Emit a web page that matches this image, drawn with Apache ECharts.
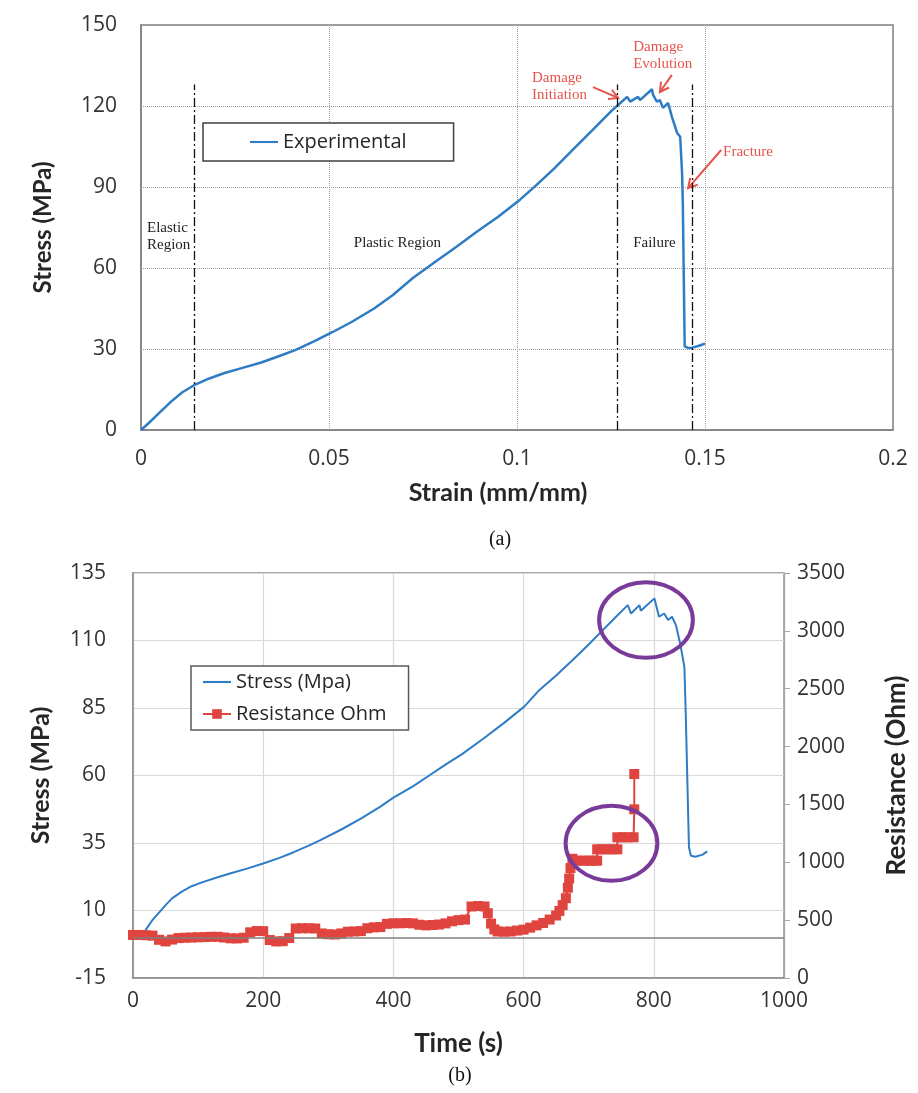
<!DOCTYPE html>
<html><head><meta charset="utf-8">
<script src="https://cdn.jsdelivr.net/npm/echarts@6/dist/echarts.min.js"></script>
<style>html,body{margin:0;padding:0;background:#fff}#c{width:918px;height:1093px}</style>
</head><body><div id="c"></div>
<script>
// ---- (a) stress vs strain ----
const strainA = [0,0.002,0.005,0.008,0.011,0.014,0.018,0.022,0.027,0.032,0.037,0.041,0.046,0.051,0.056,0.062,0.067,0.0723,0.078,0.084,0.0893,0.095,0.1008,0.105,0.110,0.115,0.120,0.125,0.1274,0.1293,0.1301,0.1322,0.1327,0.1359,0.1362,0.1372,0.1380,0.1388,0.1402,0.1412,0.1426,0.1434,0.1439,0.1441,0.1446,0.1455,0.1465,0.1480,0.1490,0.1500];
const stressA = [0,2.5,6.5,10.5,14,16.5,19,21,23,25,27.5,29.6,32.8,36.3,40,45,50,56.3,62,68,73.4,79,85.3,90.5,97,104,111,118,121,123.4,121.6,123.4,122.2,126.2,124.1,121.6,122.2,119.3,121.1,116,110,108.6,95.2,84.1,31,30.4,30.5,31,31.5,32];
const xTicksA = [0, 0.05, 0.1, 0.15, 0.2];
const yTicksA = [0, 30, 60, 90, 120, 150];
const regionLinesA = [0.0141, 0.1267, 0.1467];
const regionLineTopA = 128;
const notesA = [
  {text:'Elastic\nRegion', at:[0.0016, 71.5], red:false},
  {text:'Plastic Region', at:[0.0566, 69.3], red:false},
  {text:'Failure', at:[0.1309, 69.3], red:false},
  {text:'Damage\nInitiation', at:[0.104, 127.2], red:true},
  {text:'Damage\nEvolution', at:[0.1309, 138.7], red:true},
  {text:'Fracture', at:[0.1548, 103], red:true}
];
const arrowsA = [
  {from:[0.1202, 127], to:[0.1269, 123]},
  {from:[0.1412, 131.5], to:[0.1380, 125.2]},
  {from:[0.1543, 103.7], to:[0.1455, 89.6]}
];
// ---- (b) stress & resistance vs time ----
const timeB = [13,20,30,41,50,60,75,90,107,130,149,175,200,225,246,270,287,320,350,380,400,430,455,480,506,540,570,601,624,650,675,700,719,742,760,765,778,780,801,808,816,822,828,834,841,847,849,852,854,857,864,875,882];
const stressB = [0,3,6.5,9.5,12,14.5,17,19,20.5,22.3,23.7,25.5,27.4,29.5,31.5,34,36,40,44,48.5,51.8,56,60,64,68,74,79.5,85.5,91.6,97,102.7,108.5,113.2,118.8,123.1,120,123.1,121,125.6,118.8,120,117.6,118.8,115.7,108.3,100.2,83.5,82.9,33.4,30.3,29.9,30.7,31.9];
const timeR = [0,10,20,30,40,50,60,70,80,90,100,110,120,130,140,150,160,170,180,190,200,210,220,230,240,250,260,270,280,290,300,310,320,330,340,350,360,370,380,390,400,410,420,430,440,450,460,470,480,490,500,510,520,530,540,545,550,555,560,570,580,590,600,610,620,630,640,650,655,660,665,668,670,672,675,684,692,700,707,713,713,720,728,736,744,744,752,760,769,770,770];
const resistR = [372,372,370,366,330,316,332,345,348,350,352,354,356,356,350,343,342,348,395,406,405,328,316,318,345,428,430,430,428,385,378,376,385,400,402,405,430,438,440,468,473,473,475,472,460,455,458,462,472,490,500,505,618,622,618,560,470,420,402,400,402,410,418,435,455,475,505,540,580,630,690,780,860,950,1030,1014,1014,1014,1014,1014,1112,1112,1112,1112,1112,1216,1216,1216,1216,1458,1763];
const circlesB = [
  {center:[788, 117.6], r:[72, 14]},
  {center:[735, 34.9], r:[70.5, 13.9]}
];

const FONT = 'Lato';
const TICKFONT = 'Open Sans';
const BLUE = '#2e7cc4';
const RED = '#e0443e';
const NOTE_RED = '#e4544d';
const PURPLE = '#7a3a99';
const TXT = '#333333';
const LINE_ICON = 'path://M0,0H40V3H0Z';

const chart = echarts.init(document.getElementById('c'));
const tick = {fontFamily:TICKFONT, fontSize:21, color:TXT};
const option = {
  animation: false,
  backgroundColor: '#ffffff',
  grid: [
    {left:141, top:25, width:752, height:405, show:true, borderColor:'#808080', borderWidth:1.5},
    {left:133, top:573, width:652, height:405, show:true, borderColor:'#8c8c8c', borderWidth:1.5}
  ],
  legend: [
    {data:[{name:'Experimental', icon:LINE_ICON}], left:203, top:123, orient:'horizontal', padding:[9,47,9,47],
     borderColor:'#404040', borderWidth:1.5, backgroundColor:'#fff', itemWidth:28, itemHeight:12,
     textStyle:{fontFamily:TICKFONT, fontSize:20, color:'#262626'}},
    {data:[{name:'Stress (Mpa)', icon:LINE_ICON}, 'Resistance Ohm'], left:191, top:666, orient:'vertical', padding:[6,22,6,11], itemGap:12,
     borderColor:'#595959', borderWidth:1.5, backgroundColor:'#fff', itemWidth:28, itemHeight:12,
     textStyle:{fontFamily:TICKFONT, fontSize:20, color:'#262626'}}
  ],
  xAxis: [
    {gridIndex:0, type:'value', min:xTicksA[0], max:xTicksA[xTicksA.length-1], interval:0.05,
     name:'Strain (mm/mm)', nameLocation:'middle', nameGap:50,
     nameTextStyle:{fontFamily:FONT, fontWeight:'bold', fontSize:25, color:'#262626', padding:[0,38,0,0]},
     axisLine:{show:true, lineStyle:{color:'#808080', width:1.5}}, axisTick:{show:false},
     axisLabel:Object.assign({margin:19, formatter:v=>String(+v.toFixed(2))}, tick),
     splitLine:{show:true, lineStyle:{type:'dotted', color:'#9a9a9a', width:1}}},
    {gridIndex:1, type:'value', min:0, max:1000, interval:200,
     name:'Time (s)', nameLocation:'middle', nameGap:53,
     nameTextStyle:{fontFamily:FONT, fontWeight:'bold', fontSize:26, color:'#262626'},
     axisLine:{show:true, onZero:false, lineStyle:{color:'#8c8c8c', width:1.5}}, axisTick:{show:false},
     axisLabel:Object.assign({margin:13, formatter:v=>String(v)}, tick),
     splitLine:{show:true, lineStyle:{color:'#d9d9d9', width:1.2}}}
  ],
  yAxis: [
    {gridIndex:0, type:'value', min:yTicksA[0], max:yTicksA[yTicksA.length-1], interval:30,
     name:'Stress (MPa)', nameLocation:'middle', nameGap:86,
     nameTextStyle:{fontFamily:FONT, fontWeight:'bold', fontSize:24, color:'#262626'},
     axisLine:{show:true, lineStyle:{color:'#808080', width:1.5}}, axisTick:{show:false},
     axisLabel:Object.assign({margin:24, formatter:v=>String(v)}, tick),
     splitLine:{show:true, lineStyle:{type:'dotted', color:'#9a9a9a', width:1}}},
    {gridIndex:1, type:'value', min:-15, max:135, interval:25,
     name:'Stress (MPa)', nameLocation:'middle', nameGap:80,
     nameTextStyle:{fontFamily:FONT, fontWeight:'bold', fontSize:25, color:'#262626'},
     axisLine:{show:true, lineStyle:{color:'#8c8c8c', width:1.5}}, axisTick:{show:false},
     axisLabel:Object.assign({margin:27, formatter:v=>String(v)}, tick),
     splitLine:{show:true, lineStyle:{color:'#d9d9d9', width:1.2}}},
    {gridIndex:1, type:'value', min:0, max:3500, interval:500, position:'right',
     name:'Resistance (Ohm)', nameLocation:'middle', nameGap:100,
     nameTextStyle:{fontFamily:FONT, fontWeight:'bold', fontSize:26, color:'#262626'},
     axisLine:{show:true, lineStyle:{color:'#a6a6a6', width:1.2}},
     axisTick:{show:true, inside:false, length:6, lineStyle:{color:'#a6a6a6'}},
     axisLabel:Object.assign({margin:13, formatter:v=>String(v)}, tick),
     splitLine:{show:false}}
  ],
  series: [
    {name:'Experimental', type:'line', xAxisIndex:0, yAxisIndex:0,
     data: strainA.map((s,i)=>[s, stressA[i]]), symbol:'none',
     lineStyle:{color:BLUE, width:2.5}, itemStyle:{color:BLUE},
     markLine:{silent:true, symbol:['none','none'], label:{show:false},
       lineStyle:{type:[9,3,2,3], color:'#111', width:1.3},
       data: regionLinesA.map(x=>[{coord:[x,0]},{coord:[x,regionLineTopA]}])}},
    {name:'Stress (Mpa)', type:'line', xAxisIndex:1, yAxisIndex:1,
     data: timeB.map((t,i)=>[t, stressB[i]]), symbol:'none',
     lineStyle:{color:BLUE, width:2}, itemStyle:{color:BLUE},
     markLine:{silent:true, symbol:['none','none'], label:{show:false},
       lineStyle:{type:'solid', color:'#7f7f7f', width:1.5}, data:[{yAxis:0}]}},
    {name:'Resistance Ohm', type:'line', xAxisIndex:1, yAxisIndex:2,
     data: timeR.map((t,i)=>[t, resistR[i]]), symbol:'rect', symbolSize:10, showAllSymbol:true, clip:false,
     lineStyle:{color:RED, width:2}, itemStyle:{color:RED}}
  ]
};
chart.setOption(option);

const pA = (d) => chart.convertToPixel({xAxisIndex:0, yAxisIndex:0}, d);
const pB = (d) => chart.convertToPixel({xAxisIndex:1, yAxisIndex:1}, d);
const gfx = [];
notesA.forEach(n => {
  const p = pA(n.at);
  gfx.push({type:'text', x:p[0], y:p[1], silent:true,
    style:{text:n.text, font:'15px "Liberation Serif"', fill:n.red?NOTE_RED:'#222', align:'left', verticalAlign:'middle', lineHeight:17}});
});
arrowsA.forEach(a => {
  const p0 = pA(a.from), p1 = pA(a.to);
  const dx = p1[0]-p0[0], dy = p1[1]-p0[1], L = Math.hypot(dx,dy), ux = dx/L, uy = dy/L;
  const h = 9, w = 5;
  const l = [p1[0]-ux*h-uy*w, p1[1]-uy*h+ux*w], r = [p1[0]-ux*h+uy*w, p1[1]-uy*h-ux*w];
  gfx.push({type:'line', silent:true, shape:{x1:p0[0],y1:p0[1],x2:p1[0],y2:p1[1]}, style:{stroke:NOTE_RED, lineWidth:2}});
  gfx.push({type:'polyline', silent:true, shape:{points:[l,p1,r]}, style:{stroke:NOTE_RED, lineWidth:2, fill:null}});
});
circlesB.forEach(c => {
  const p = pB(c.center);
  const px = pB([c.center[0]+c.r[0], c.center[1]]);
  const py = pB([c.center[0], c.center[1]+c.r[1]]);
  gfx.push({type:'ellipse', silent:true, z:100,
    shape:{cx:p[0], cy:p[1], rx:Math.abs(px[0]-p[0]), ry:Math.abs(p[1]-py[1])},
    style:{stroke:PURPLE, lineWidth:4, fill:null}});
});
gfx.push({type:'text', x:500, y:540, silent:true, style:{text:'(a)', font:'20px "Liberation Serif"', fill:'#111', align:'center', verticalAlign:'middle'}});
gfx.push({type:'text', x:460, y:1076, silent:true, style:{text:'(b)', font:'20px "Liberation Serif"', fill:'#111', align:'center', verticalAlign:'middle'}});
chart.setOption({graphic: gfx});
</script>
</body></html>
